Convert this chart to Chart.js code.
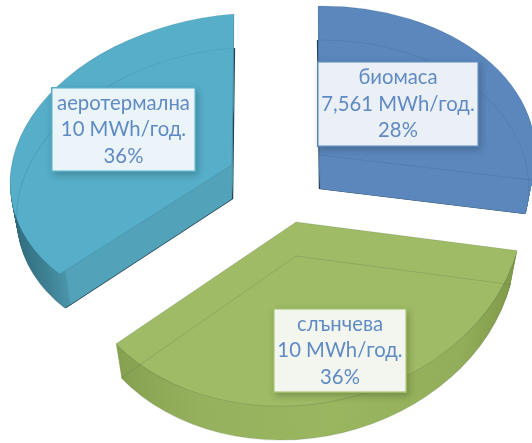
<!DOCTYPE html>
<html>
<head>
<meta charset="utf-8">
<title>ВЕИ топлинна енергия</title>
<style>
    html, body { margin: 0; padding: 0; background: #fff; }
    canvas { display: block; }
</style>
<script src="https://cdn.jsdelivr.net/npm/chart.js@4"></script>
</head>
<body>
<canvas id="pie" width="532" height="443"></canvas>
<script>
// --- Data ---
const sources = ['биомаса', 'слънчева', 'аеротермална'];
const outputs = ['7,561 MWh/год.', '10 MWh/год.', '10 MWh/год.'];
const shares = [28, 36, 36];

// --- Look ---
const topColors = ['#5b87bd', '#9fbb65', '#56aec8'];
const boxFills = ['#ebeff6', '#f3f6ee', '#ebf4f8'];
const labelBoxes = [[317, 61, 162, 86], [273, 308, 134, 85], [51, 87, 145, 85]];

// Chart.js has no 3D pie, so every slice gets its own affine view:
// a, b, c, d = how the pie's unit circle is stretched, e, f = where its centre lands
const sliceViews = [
    { a: 215.5, b: 2, c: -2.9, d: 149, e: 320, f: 155, sliver: -1.2, side: [[0, '#5b87bd'], [1, '#5b87bd']] },
    { a: 226.8, b: -8.6, c: -6, d: 184, e: 296, f: 222, sliver: 0, side: [[0.1, '#84a04e'], [0.3, '#96b15e'], [0.6, '#9ab65f'], [0.88, '#93ae5a'], [1, '#7f9848']] },
    { a: 222, b: -2, c: -17, d: 151, e: 232, f: 165, sliver: 1.2, side: [[0, '#2f6b7d'], [0.08, '#3f8194'], [0.125, '#4a93a8'], [0.13, '#52a3b9'], [1, '#52a3b9']] }
];
const depth = 34;
const depthShrink = 0.03;

const drawSlice = (ctx, arc, view, drop, shrink, options) => {
    const R = arc.outerRadius;
    const clone = Object.create(arc);
    clone.options = Object.assign(Object.create(arc.options), options);
    ctx.save();
    ctx.translate(view.e, view.f + drop);
    ctx.scale(1 - shrink, 1);
    ctx.translate(-view.e, -view.f);
    ctx.transform(view.a / R, view.c / R, view.b / R, view.d / R,
        view.e - (view.a * arc.x + view.b * arc.y) / R,
        view.f - (view.c * arc.x + view.d * arc.y) / R);
    clone.draw(ctx);
    ctx.restore();
};

const extrudedPie = {
    id: 'extrudedPie',
    beforeDatasetDraw(chart, args) {
        const ctx = chart.ctx;
        args.meta.data.forEach((arc, i) => {
            const view = sliceViews[i];
            const R = arc.outerRadius;

            // dark sliver of the back face
            if (view.sliver) {
                ctx.save();
                ctx.translate(view.sliver, 0);
                drawSlice(ctx, arc, view, depth, depthShrink, { backgroundColor: '#24424f', borderWidth: 0 });
                ctx.restore();
            }

            const sideFill = ctx.createLinearGradient(arc.x - R, 0, arc.x + R, 0);
            view.side.forEach(([stop, color]) => sideFill.addColorStop(stop, color));
            for (let y = depth; y > 0; y--) {
                drawSlice(ctx, arc, view, y, depthShrink * y / depth, { backgroundColor: sideFill, borderWidth: 0 });
            }
            drawSlice(ctx, arc, view, 0, 0, { backgroundColor: topColors[i], borderWidth: 0 });

            const edge = { backgroundColor: 'rgba(0,0,0,0)', borderColor: 'rgba(20,50,70,0.13)', borderWidth: 1, borderAlign: 'center' };
            drawSlice(ctx, arc, view, depth, depthShrink, edge);
            drawSlice(ctx, arc, view, 0, 0, edge);
        });
        return false;
    },
    afterDraw(chart) {
        const ctx = chart.ctx;
        labelBoxes.forEach(([x, y, w, h], i) => {
            ctx.save();
            ctx.shadowColor = 'rgba(0,0,0,0.22)';
            ctx.shadowBlur = 7;
            ctx.shadowOffsetX = 2;
            ctx.shadowOffsetY = 3;
            ctx.fillStyle = topColors[i];
            ctx.fillRect(x, y, w, h);
            ctx.restore();
            ctx.fillStyle = boxFills[i];
            ctx.fillRect(x + 1.5, y + 1.5, w - 3, h - 3);

            ctx.fillStyle = '#5f8ac3';
            ctx.font = '20.3px Lato, "Open Sans", sans-serif';
            ctx.textAlign = 'center';
            ctx.textBaseline = 'middle';
            const lines = [sources[i], outputs[i], `${shares[i]}%`];
            lines.forEach((line, n) => ctx.fillText(line, x + w / 2, y + h / 2 + (n - 1) * 26.5));
        });
    }
};

new Chart(document.getElementById('pie'), {
    type: 'pie',
    data: {
        labels: sources,
        datasets: [{ data: shares, backgroundColor: topColors, borderWidth: 0 }]
    },
    options: {
        responsive: false,
        animation: false,
        plugins: { legend: { display: false }, tooltip: { enabled: false } }
    },
    plugins: [extrudedPie]
});
</script>
</body>
</html>
